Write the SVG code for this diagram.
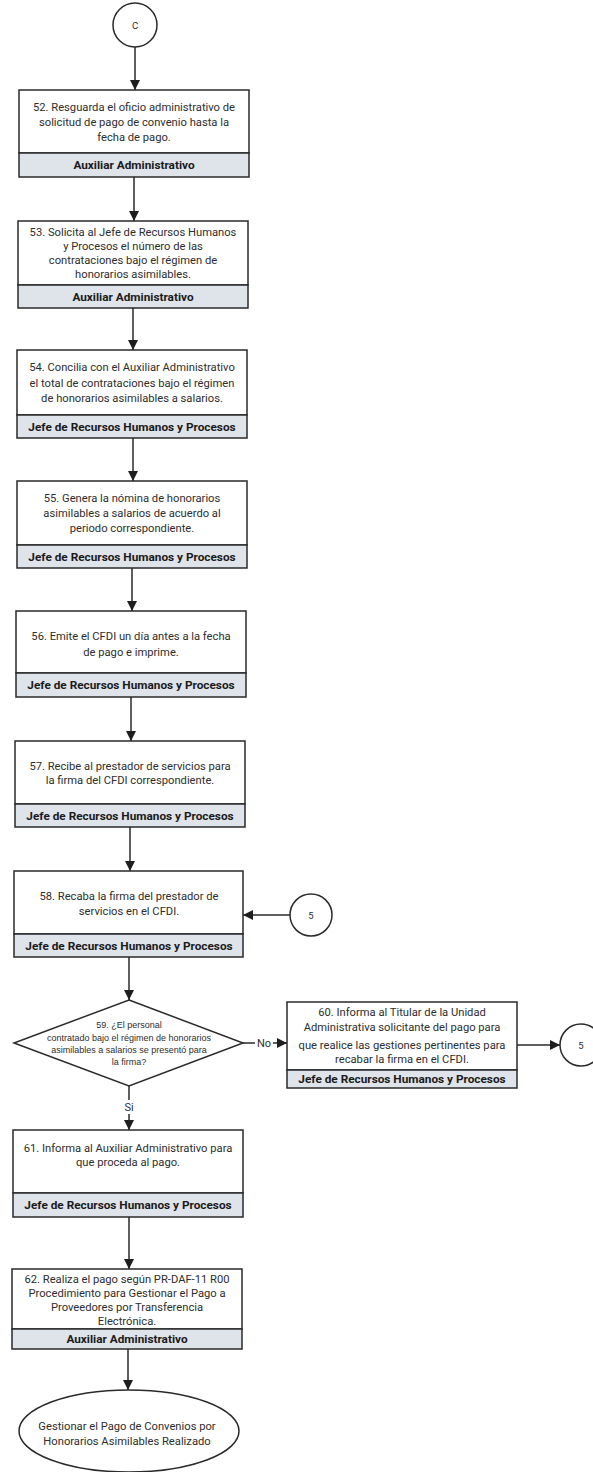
<svg xmlns="http://www.w3.org/2000/svg" width="593" height="1472" viewBox="0 0 593 1472">
<style>
.box{fill:#ffffff;stroke:#2a2a2a;stroke-width:1.5}
.band{fill:#dfe3ea;stroke:#2a2a2a;stroke-width:1.5}
.t{font-family:Roboto,"Liberation Sans",sans-serif;font-size:11.2px;fill:#2e2e2e;text-anchor:middle}
.r{font-family:Roboto,"Liberation Sans",sans-serif;font-size:11.8px;font-weight:bold;fill:#1a1a1a;text-anchor:middle}
.d{font-family:"Liberation Sans",Arial,sans-serif;font-size:9px;fill:#2e2e2e;text-anchor:middle}
.lbl{font-family:Roboto,"Liberation Sans",sans-serif;font-size:11px;fill:#2e2e2e;text-anchor:middle}
.c{fill:#ffffff;stroke:#2a2a2a;stroke-width:1.5}
.ln{fill:none;stroke:#2a2a2a;stroke-width:1.5}
</style>
<defs>
<marker id="ah" markerWidth="10" markerHeight="10" refX="10" refY="5" orient="auto" markerUnits="userSpaceOnUse">
<path d="M0,0 L10,5 L0,10 Z" fill="#1e1e1e"/>
</marker>
</defs>
<rect width="593" height="1472" fill="#ffffff"/>

<g id="connectors">
<line class="ln" x1="135" y1="47" x2="135" y2="90" marker-end="url(#ah)"/>
<line class="ln" x1="134" y1="177" x2="134" y2="221" marker-end="url(#ah)"/>
<line class="ln" x1="133" y1="308" x2="133" y2="350" marker-end="url(#ah)"/>
<line class="ln" x1="133" y1="438" x2="133" y2="481" marker-end="url(#ah)"/>
<line class="ln" x1="132" y1="568" x2="132" y2="611" marker-end="url(#ah)"/>
<line class="ln" x1="131" y1="697" x2="131" y2="741" marker-end="url(#ah)"/>
<line class="ln" x1="130" y1="827" x2="130" y2="871" marker-end="url(#ah)"/>
<line class="ln" x1="129" y1="957" x2="129" y2="1000" marker-end="url(#ah)"/>
<line class="ln" x1="290" y1="915" x2="243" y2="915" marker-end="url(#ah)"/>
<line class="ln" x1="243" y1="1043" x2="287" y2="1043" marker-end="url(#ah)"/>
<line class="ln" x1="517" y1="1045" x2="560" y2="1045" marker-end="url(#ah)"/>
<line class="ln" x1="129" y1="1086" x2="129" y2="1130" marker-end="url(#ah)"/>
<line class="ln" x1="129" y1="1217" x2="129" y2="1269" marker-end="url(#ah)"/>
<line class="ln" x1="128" y1="1349" x2="128" y2="1390" marker-end="url(#ah)"/>
<rect x="255" y="1036" width="18" height="14" fill="#ffffff"/>
<text class="lbl" x="264" y="1047">No</text>
<rect x="122" y="1100" width="14" height="14" fill="#ffffff"/>
<text class="lbl" x="129" y="1111">Si</text>
</g>

<g id="conC">
<circle class="c" cx="135" cy="25" r="22"/>
<text class="t" x="135" y="29" style="font-size:9.5px">C</text>
</g>

<g id="n52">
<rect class="box" x="19" y="90" width="230" height="63"/>
<rect class="band" x="19" y="153" width="230" height="24"/>
<text class="t" x="134" y="111">52. Resguarda el oficio administrativo de</text>
<text class="t" x="134" y="126">solicitud de pago de convenio hasta la</text>
<text class="t" x="134" y="141">fecha de pago.</text>
<text class="r" x="134" y="169">Auxiliar Administrativo</text>
</g>

<g id="n53">
<rect class="box" x="18" y="221" width="230" height="64"/>
<rect class="band" x="18" y="285" width="230" height="23"/>
<text class="t" x="133" y="236">53. Solicita al Jefe de Recursos Humanos</text>
<text class="t" x="133" y="250">y Procesos el número de las</text>
<text class="t" x="133" y="264">contrataciones bajo el régimen de</text>
<text class="t" x="133" y="278">honorarios asimilables.</text>
<text class="r" x="133" y="301">Auxiliar Administrativo</text>
</g>

<g id="n54">
<rect class="box" x="17" y="350" width="230" height="65"/>
<rect class="band" x="17" y="415" width="230" height="23"/>
<text class="t" x="132" y="371">54. Concilia con el Auxiliar Administrativo</text>
<text class="t" x="132" y="387">el total de contrataciones bajo el régimen</text>
<text class="t" x="132" y="402">de honorarios asimilables a salarios.</text>
<text class="r" x="132" y="431">Jefe de Recursos Humanos y Procesos</text>
</g>

<g id="n55">
<rect class="box" x="17" y="481" width="230" height="64"/>
<rect class="band" x="17" y="545" width="230" height="23"/>
<text class="t" x="132" y="502">55. Genera la nómina de honorarios</text>
<text class="t" x="132" y="517">asimilables a salarios de acuerdo al</text>
<text class="t" x="132" y="532">periodo correspondiente.</text>
<text class="r" x="132" y="561">Jefe de Recursos Humanos y Procesos</text>
</g>

<g id="n56">
<rect class="box" x="16" y="611" width="230" height="62"/>
<rect class="band" x="16" y="673" width="230" height="24"/>
<text class="t" x="131" y="640">56. Emite el CFDI un día antes a la fecha</text>
<text class="t" x="131" y="656">de pago e imprime.</text>
<text class="r" x="131" y="689">Jefe de Recursos Humanos y Procesos</text>
</g>

<g id="n57">
<rect class="box" x="15" y="741" width="230" height="63"/>
<rect class="band" x="15" y="804" width="230" height="23"/>
<text class="t" x="130" y="770">57. Recibe al prestador de servicios para</text>
<text class="t" x="130" y="784">la firma del CFDI correspondiente.</text>
<text class="r" x="130" y="820">Jefe de Recursos Humanos y Procesos</text>
</g>

<g id="n58">
<rect class="box" x="14" y="871" width="229" height="63"/>
<rect class="band" x="14" y="934" width="229" height="23"/>
<text class="t" x="129" y="900">58. Recaba la firma del prestador de</text>
<text class="t" x="129" y="915">servicios en el CFDI.</text>
<text class="r" x="129" y="950">Jefe de Recursos Humanos y Procesos</text>
</g>

<g id="con5a">
<circle class="c" cx="311" cy="915" r="21"/>
<text class="t" x="311" y="919" style="font-size:9.5px">5</text>
</g>

<g id="n59">
<polygon class="box" points="129,1000 243,1043 129,1086 14,1043"/>
<text class="d" x="129" y="1028">59. ¿El personal</text>
<text class="d" x="129" y="1041">contratado bajo el régimen de honorarios</text>
<text class="d" x="129" y="1053">asimilables a salarios se presentó para</text>
<text class="d" x="129" y="1065">la firma?</text>
</g>

<g id="n60">
<rect class="box" x="287" y="1002" width="230" height="68"/>
<rect class="band" x="287" y="1070" width="230" height="18"/>
<text class="t" x="402" y="1016">60. Informa al Titular de la Unidad</text>
<text class="t" x="402" y="1031">Administrativa solicitante del pago para</text>
<text class="t" x="402" y="1049">que realice las gestiones pertinentes para</text>
<text class="t" x="402" y="1063">recabar la firma en el CFDI.</text>
<text class="r" x="402" y="1083">Jefe de Recursos Humanos y Procesos</text>
</g>

<g id="con5b">
<circle class="c" cx="581" cy="1045" r="21"/>
<text class="t" x="581" y="1049" style="font-size:9.5px">5</text>
</g>

<g id="n61">
<rect class="box" x="13" y="1130" width="230" height="63"/>
<rect class="band" x="13" y="1193" width="230" height="24"/>
<text class="t" x="128" y="1152">61. Informa al Auxiliar Administrativo para</text>
<text class="t" x="128" y="1166">que proceda al pago.</text>
<text class="r" x="128" y="1209">Jefe de Recursos Humanos y Procesos</text>
</g>

<g id="n62">
<rect class="box" x="12" y="1269" width="230" height="60"/>
<rect class="band" x="12" y="1329" width="230" height="20"/>
<text class="t" x="127" y="1283">62. Realiza el pago según PR-DAF-11 R00</text>
<text class="t" x="127" y="1297">Procedimiento para Gestionar el Pago a</text>
<text class="t" x="127" y="1311">Proveedores por Transferencia</text>
<text class="t" x="127" y="1325">Electrónica.</text>
<text class="r" x="127" y="1343">Auxiliar Administrativo</text>
</g>

<g id="end">
<ellipse class="c" cx="129" cy="1431" rx="110" ry="41"/>
<text class="t" x="127" y="1430">Gestionar el Pago de Convenios por</text>
<text class="t" x="127" y="1445">Honorarios Asimilables Realizado</text>
</g>
</svg>
